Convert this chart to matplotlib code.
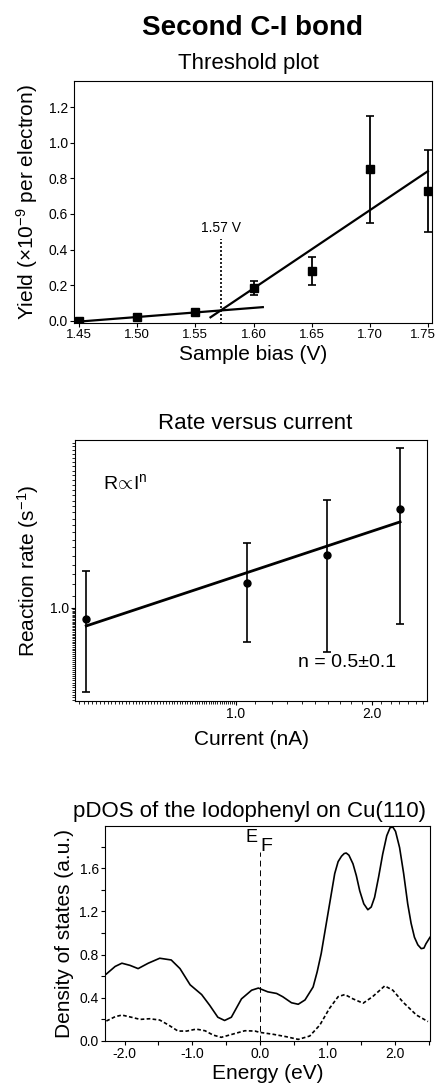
import numpy as np
import matplotlib
matplotlib.use("Agg")
import matplotlib.pyplot as plt
import matplotlib.transforms as mtransforms
from matplotlib.ticker import FixedLocator, FormatStrFormatter, MultipleLocator, NullFormatter

plt.rcParams["font.family"] = ["Liberation Sans", "DejaVu Sans"]
plt.rcParams["mathtext.fontset"] = "custom"
plt.rcParams["mathtext.rm"] = "Liberation Sans"
plt.rcParams["mathtext.it"] = "Liberation Sans:italic"
plt.rcParams["axes.unicode_minus"] = False

# ====== DATA ======
# threshold plot
bias = [1.45, 1.50, 1.55, 1.60, 1.65, 1.70, 1.75]
yield_vals = [0.0, 0.02, 0.052, 0.185, 0.28, 0.85, 0.73]
yield_err = [0.0, 0.0, 0.0, 0.04, 0.08, 0.30, 0.23]
low_fit_x = [1.45, 1.608]
low_fit_y = [-0.004, 0.077]
high_fit_x = [1.563, 1.75]
high_fit_y = [0.02, 0.84]
threshold_v = 1.572
threshold_label = "1.57 V"

# rate vs current (log-log)
current = [0.466, 1.06, 1.59, 2.31]
rate = [0.92, 1.21, 1.51, 2.15]
rate_lo = [0.52, 0.77, 0.71, 0.88]
rate_hi = [1.33, 1.66, 2.31, 3.46]
rate_fit_x = [0.466, 2.31]
rate_fit_y = [0.87, 1.95]

# pDOS
energy_solid = [-2.27, -2.14, -2.04, -1.92, -1.80, -1.65, -1.48, -1.31, -1.18, -1.03,
                -0.86, -0.74, -0.62, -0.52, -0.42, -0.27, -0.12, -0.02, 0.12, 0.25,
                0.34, 0.47, 0.57, 0.67, 0.79, 0.85, 0.91, 1.01, 1.11, 1.16, 1.21,
                1.25, 1.28, 1.32, 1.38, 1.43, 1.48, 1.54, 1.60, 1.65, 1.70, 1.76,
                1.82, 1.88, 1.93, 1.97, 2.01, 2.07, 2.13, 2.19, 2.24, 2.29, 2.34,
                2.39, 2.43, 2.46, 2.52]
dos_solid = [0.62, 0.69, 0.72, 0.70, 0.67, 0.72, 0.766, 0.75, 0.67, 0.52,
             0.43, 0.33, 0.22, 0.19, 0.22, 0.39, 0.47, 0.49, 0.455, 0.44,
             0.41, 0.354, 0.34, 0.38, 0.50, 0.64, 0.81, 1.18, 1.55, 1.66, 1.71,
             1.735, 1.74, 1.72, 1.64, 1.53, 1.39, 1.27, 1.215, 1.24, 1.33, 1.52,
             1.73, 1.90, 1.975, 1.98, 1.94, 1.79, 1.55, 1.27, 1.09, 0.96, 0.89,
             0.855, 0.86, 0.90, 0.96]
energy_dash = [-2.27, -2.14, -2.04, -1.90, -1.77, -1.63, -1.48, -1.35, -1.21, -1.08,
               -0.94, -0.81, -0.69, -0.57, -0.42, -0.22, -0.07, 0.0, 0.20, 0.39,
               0.57, 0.74, 0.89, 1.03, 1.16, 1.26, 1.38, 1.53, 1.67, 1.85, 1.97,
               2.12, 2.32, 2.49]
dos_dash = [0.185, 0.225, 0.24, 0.22, 0.20, 0.206, 0.194, 0.148, 0.092, 0.092,
            0.11, 0.095, 0.055, 0.034, 0.06, 0.095, 0.092, 0.08, 0.062, 0.04,
            0.015, 0.046, 0.148, 0.30, 0.41, 0.43, 0.39, 0.35, 0.41, 0.51, 0.47,
            0.36, 0.24, 0.18]
fermi_top = 1.75
# ==================

W, H = 437, 1091
fig = plt.figure(figsize=(W / 100, H / 100), dpi=100)


def px_axes(left, top, right, bottom):
    return fig.add_axes([left / W, 1 - bottom / H, (right - left) / W, (bottom - top) / H])


def style(ax):
    for s in ax.spines.values():
        s.set_linewidth(0.8)
    ax.tick_params(direction="out", length=3, width=0.8, labelsize=10, pad=1.5)
    ax.tick_params(which="minor", direction="out", length=2, width=0.6)


# ---------- Top: threshold plot ----------
fig.text(253 / W, 1 - 28 / H, "Second C-I bond", ha="center", va="center",
         fontsize=20, fontweight="bold")
fig.text(248 / W, 1 - 63.5 / H, "Threshold plot", ha="center", va="center", fontsize=16)

ax1 = px_axes(74, 81, 432, 323)
style(ax1)
ax1.errorbar(bias, yield_vals, yerr=yield_err, fmt="s", color="black", ms=5.5,
             elinewidth=1.3, capsize=3, capthick=1.2)
ax1.plot(low_fit_x, low_fit_y, color="black", lw=1.6)
ax1.plot(high_fit_x, high_fit_y, color="black", lw=1.6)
ax1.plot([threshold_v, threshold_v], [-0.02, 0.46], color="black", lw=1.2, ls=(0, (1.2, 1.2)))
ax1.text(threshold_v, 0.52, threshold_label, ha="center", va="center", fontsize=10)
ax1.set_xlim(1.4456, 1.7535)
ax1.set_ylim(-0.012, 1.346)
ax1.set_xticks(bias)
ax1.xaxis.set_major_formatter(FormatStrFormatter("%.2f"))
ax1.tick_params(axis="x", labelsize=9.5)
ax1.yaxis.set_major_locator(MultipleLocator(0.2))
ax1.yaxis.set_major_formatter(FormatStrFormatter("%.1f"))
ax1.set_xlabel("Sample bias (V)", fontsize=15, labelpad=3)
ax1.set_ylabel(r"Yield ($\times$10$^{\mathregular{-9}}$ per electron)", fontsize=15, labelpad=6)
# last tick label sits on the figure edge: nudge it a few pixels left
last = ax1.xaxis.get_major_ticks()[-1].label1
last.set_transform(last.get_transform() + mtransforms.ScaledTranslation(-5 / 100, 0, fig.dpi_scale_trans))

# ---------- Middle: rate vs current ----------
fig.text(255 / W, 1 - 423.5 / H, "Rate versus current", ha="center", va="center", fontsize=16)

ax2 = px_axes(75, 440, 427, 701)
style(ax2)
ax2.set_xscale("log")
ax2.set_yscale("log")
yerr2 = [np.array(rate) - np.array(rate_lo), np.array(rate_hi) - np.array(rate)]
ax2.errorbar(current, rate, yerr=yerr2, fmt="o", color="black", ms=5,
             elinewidth=1.2, capsize=3, capthick=1.2)
ax2.plot(rate_fit_x, rate_fit_y, color="black", lw=2)
ax2.set_xlim(0.44, 2.65)
ax2.set_ylim(0.486, 3.68)
ax2.xaxis.set_major_locator(FixedLocator([1.0, 2.0]))
ax2.xaxis.set_major_formatter(FormatStrFormatter("%.1f"))
ax2.xaxis.set_minor_locator(FixedLocator(list(np.arange(0.45, 1.0, 0.01)) + list(np.arange(1.1, 2.65, 0.1))))
ax2.xaxis.set_minor_formatter(NullFormatter())
ax2.yaxis.set_major_locator(FixedLocator([1.0]))
ax2.yaxis.set_major_formatter(FormatStrFormatter("%.1f"))
ax2.yaxis.set_minor_locator(FixedLocator(list(np.arange(0.49, 1.0, 0.01)) + list(np.arange(1.1, 3.7, 0.1))))
ax2.yaxis.set_minor_formatter(NullFormatter())
ax2.text(0.08, 0.835, r"R$\!\propto\!$I$^{\mathregular{n}}$", transform=ax2.transAxes,
         ha="left", va="center", fontsize=14)
ax2.text(0.773, 0.146, "n = 0.5\u00b10.1", transform=ax2.transAxes,
         ha="center", va="center", fontsize=14)
ax2.set_xlabel("Current (nA)", fontsize=15, labelpad=6)
ax2.set_ylabel(r"Reaction rate (s$^{\mathregular{-1}}$)", fontsize=15, labelpad=6)

# ---------- Bottom: pDOS ----------
fig.text(249 / W, 1 - 811 / H, "pDOS of the Iodophenyl on Cu(110)", ha="center",
         va="center", fontsize=16)

ax3 = px_axes(105, 826, 430, 1041)
style(ax3)
ax3.plot(energy_solid, dos_solid, color="black", lw=1.2)
ax3.plot(energy_dash, dos_dash, color="black", lw=1.2, ls=(0, (2.2, 1.4)))
ax3.plot([0, 0], [0, fermi_top], color="black", lw=0.7, ls=(0, (6, 4)))
ax3.text(-0.12, 1.88, "E", ha="center", va="center", fontsize=13)
ax3.text(0.10, 1.80, "F", ha="center", va="center", fontsize=14)
ax3.set_xlim(-2.29, 2.52)
ax3.set_ylim(0, 1.99)
ax3.xaxis.set_major_locator(MultipleLocator(1.0))
ax3.xaxis.set_minor_locator(MultipleLocator(0.5))
ax3.xaxis.set_major_formatter(FormatStrFormatter("%.1f"))
ax3.yaxis.set_major_locator(MultipleLocator(0.4))
ax3.yaxis.set_minor_locator(MultipleLocator(0.2))
ax3.yaxis.set_major_formatter(FormatStrFormatter("%.1f"))
ax3.tick_params(which="minor", length=3, width=0.8)
ax3.set_xlabel("Energy (eV)", fontsize=15, labelpad=2)
ax3.set_ylabel("Density of states (a.u.)", fontsize=15, labelpad=4)

fig.savefig("out.png", dpi=100)
